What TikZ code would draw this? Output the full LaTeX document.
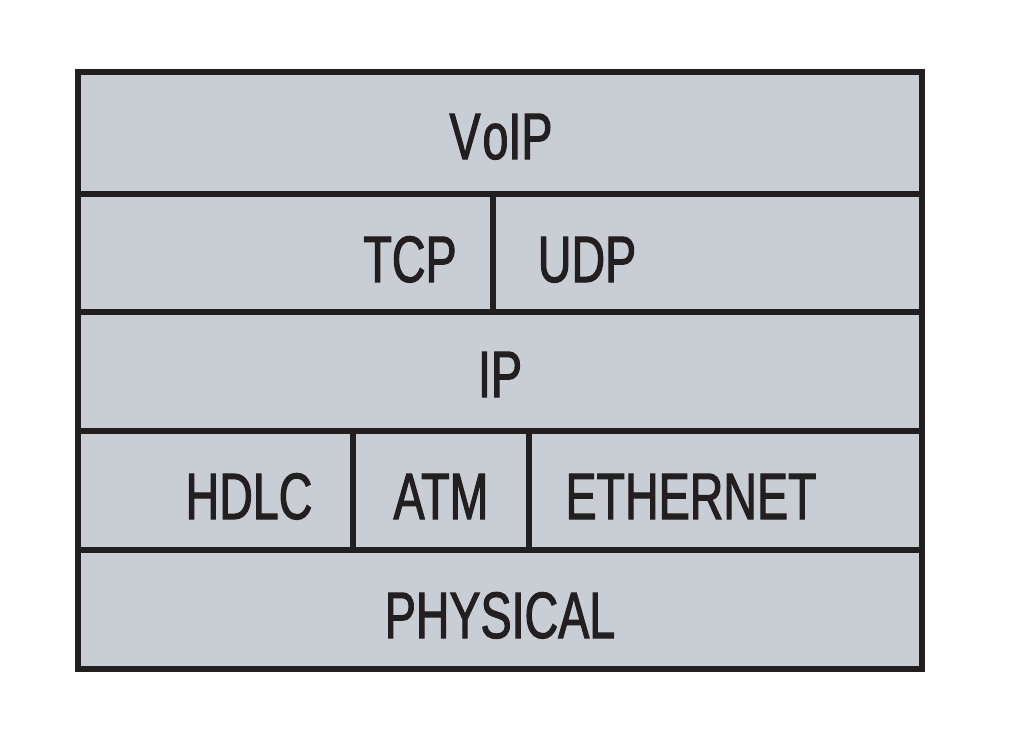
\documentclass[tikz,border=0pt]{standalone}
\usepackage{fontspec}
\setmainfont[FakeStretch=0.71,FakeBold=1.6]{Liberation Sans}
\definecolor{cellfill}{RGB}{201,205,212}
\definecolor{ink}{RGB}{35,31,32}
\begin{document}
\begin{tikzpicture}[x=1pt,y=-1pt,
  lbl/.style={anchor=base,inner sep=0pt,text=ink,font=\fontsize{65.6}{70}\selectfont},
  rule/.style={draw=ink,line width=6pt}]
\useasboundingbox (0,0) rectangle (1013,744);
\fill[white] (0,0) rectangle (1013,744);
\fill[cellfill] (78,72) rectangle (922,669);
% horizontal dividers
\draw[rule] (78,194) -- (922,194);
\draw[rule] (78,312) -- (922,312);
\draw[rule] (78,431) -- (922,431);
\draw[rule] (78,550) -- (922,550);
% vertical dividers
\draw[rule] (493,194) -- (493,312);
\draw[rule] (353,431) -- (353,550);
\draw[rule] (529,431) -- (529,550);
% outer frame
\draw[rule,line join=miter] (78,72) rectangle (922,669);
% labels
\node[lbl] (voip) at (501,159) {V\kern2pt oIP};
\node[lbl] (tcp) at (410,282) {TCP};
\node[lbl] (udp) at (587,282) {UDP};
\node[lbl] (ip) at (500,397) {IP};
\node[lbl] (hdlc) at (249,519) {HDLC};
\node[lbl] (atm) at (441,519) {ATM};
\node[lbl] (eth) at (691,519) {ETHERNET};
\node[lbl] (phys) at (500,638) {PHYSICAL};
\end{tikzpicture}
\end{document}
